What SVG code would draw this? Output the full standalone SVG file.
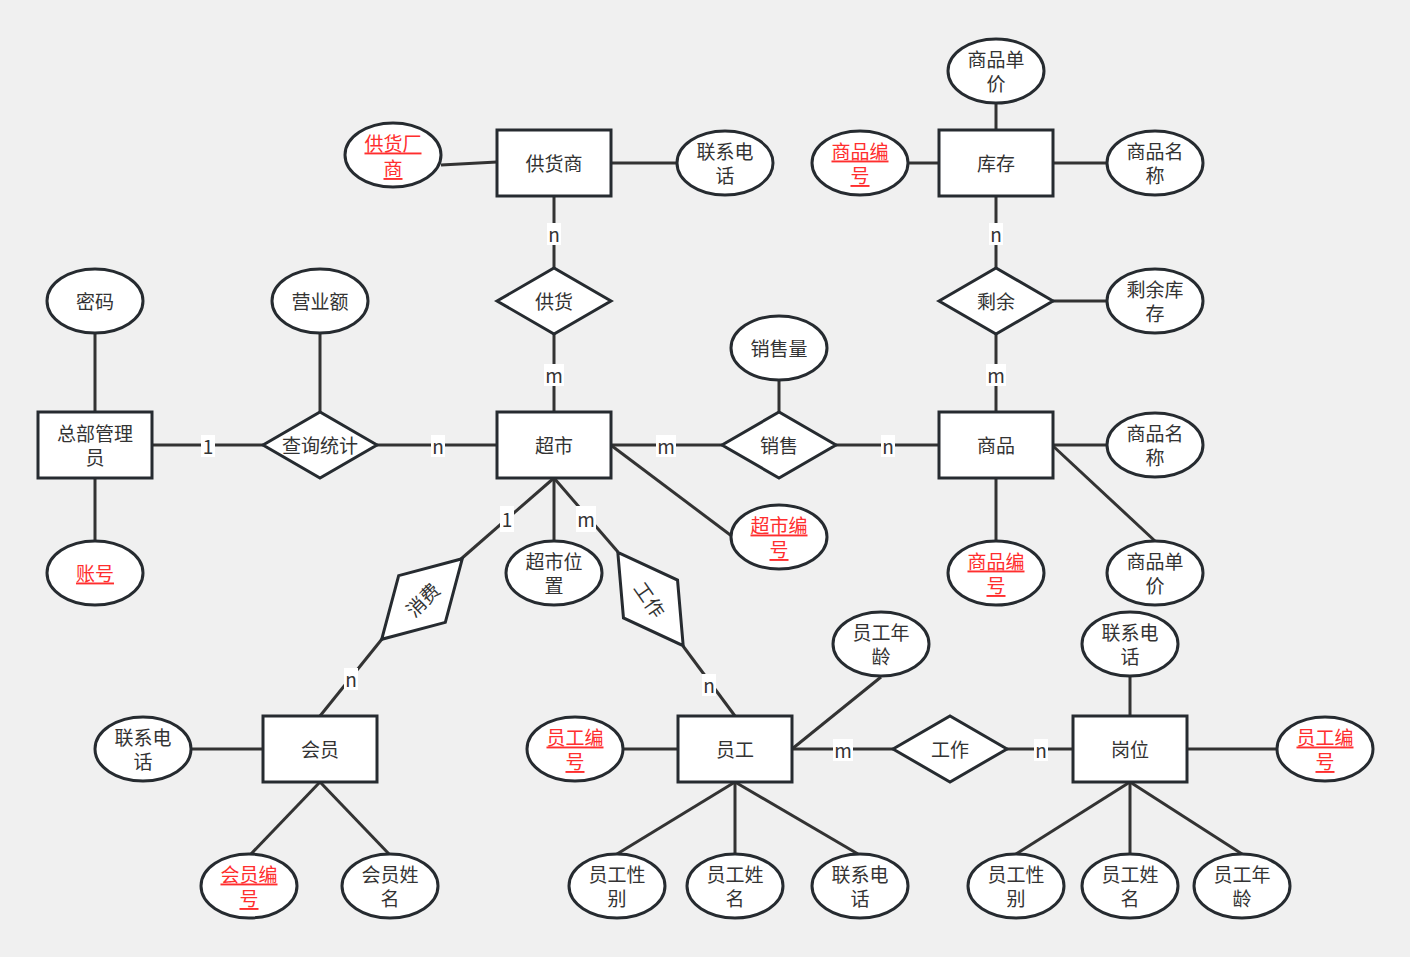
<svg xmlns="http://www.w3.org/2000/svg" width="1410" height="957" viewBox="0 0 1410 957">
<style>
.bg{fill:#f0f0f0}
.n{fill:#fff;stroke:#262b30;stroke-width:3}
.e{stroke:#333;stroke-width:3;fill:none}
text{font-family:"Noto Sans CJK SC","Noto Sans",sans-serif;font-size:19px;fill:#333;text-anchor:middle;dominant-baseline:central}
.k{fill:#ff2e2e;text-decoration:underline}
.lb{fill:#fff}
</style>
<rect class="bg" width="1410" height="957"/>
<g id="connectors">
<line class="e" x1="441" y1="165" x2="497" y2="162"/>
<line class="e" x1="611" y1="163" x2="677" y2="163"/>
<line class="e" x1="554" y1="196" x2="554" y2="268"/>
<line class="e" x1="554" y1="334" x2="554" y2="412"/>
<line class="e" x1="908" y1="163" x2="939" y2="163"/>
<line class="e" x1="996" y1="103" x2="996" y2="130"/>
<line class="e" x1="1053" y1="163" x2="1107" y2="163"/>
<line class="e" x1="996" y1="196" x2="996" y2="268"/>
<line class="e" x1="1053" y1="301" x2="1107" y2="301"/>
<line class="e" x1="996" y1="334" x2="996" y2="412"/>
<line class="e" x1="95" y1="333" x2="95" y2="412"/>
<line class="e" x1="95" y1="478" x2="95" y2="541"/>
<line class="e" x1="152" y1="445" x2="263" y2="445"/>
<line class="e" x1="320" y1="333" x2="320" y2="412"/>
<line class="e" x1="377" y1="445" x2="497" y2="445"/>
<line class="e" x1="611" y1="445" x2="722" y2="445"/>
<line class="e" x1="779" y1="380" x2="779" y2="412"/>
<line class="e" x1="836" y1="445" x2="939" y2="445"/>
<line class="e" x1="612" y1="446" x2="733" y2="537"/>
<line class="e" x1="1053" y1="445" x2="1107" y2="445"/>
<line class="e" x1="1053" y1="446" x2="1155" y2="541"/>
<line class="e" x1="996" y1="478" x2="996" y2="541"/>
<line class="e" x1="554" y1="478" x2="554" y2="541"/>
<line class="e" x1="554" y1="478" x2="461" y2="559"/>
<line class="e" x1="554" y1="478" x2="618" y2="552"/>
<line class="e" x1="382" y1="639" x2="320" y2="716"/>
<line class="e" x1="683" y1="646" x2="735" y2="716"/>
<line class="e" x1="191" y1="749" x2="263" y2="749"/>
<line class="e" x1="320" y1="782" x2="250" y2="855"/>
<line class="e" x1="320" y1="782" x2="389" y2="854"/>
<line class="e" x1="623" y1="749" x2="678" y2="749"/>
<line class="e" x1="792" y1="749" x2="893" y2="749"/>
<line class="e" x1="792" y1="749" x2="881" y2="677"/>
<line class="e" x1="1007" y1="749" x2="1073" y2="749"/>
<line class="e" x1="735" y1="782" x2="617" y2="854"/>
<line class="e" x1="735" y1="782" x2="735" y2="854"/>
<line class="e" x1="735" y1="782" x2="858" y2="854"/>
<line class="e" x1="1130" y1="676" x2="1130" y2="716"/>
<line class="e" x1="1187" y1="749" x2="1277" y2="749"/>
<line class="e" x1="1130" y1="782" x2="1016" y2="854"/>
<line class="e" x1="1130" y1="782" x2="1130" y2="854"/>
<line class="e" x1="1130" y1="782" x2="1242" y2="854"/>
<g id="labels">
<rect class="lb" x="547" y="223" width="14" height="22"/><text x="554" y="233">n</text>
<rect class="lb" x="544" y="364" width="20" height="22"/><text x="554" y="374">m</text>
<rect class="lb" x="989" y="223" width="14" height="22"/><text x="996" y="233">n</text>
<rect class="lb" x="986" y="364" width="20" height="22"/><text x="996" y="374">m</text>
<rect class="lb" x="201" y="435" width="14" height="22"/><text x="208" y="445">1</text>
<rect class="lb" x="431" y="435" width="14" height="22"/><text x="438" y="445">n</text>
<rect class="lb" x="656" y="435" width="20" height="22"/><text x="666" y="445">m</text>
<rect class="lb" x="881" y="435" width="14" height="22"/><text x="888" y="445">n</text>
<rect class="lb" x="500" y="506" width="14" height="26"/><text x="507" y="518">1</text>
<rect class="lb" x="576" y="506" width="20" height="26"/><text x="586" y="518">m</text>
<rect class="lb" x="344" y="668" width="14" height="22"/><text x="351" y="678">n</text>
<rect class="lb" x="702" y="674" width="14" height="22"/><text x="709" y="684">n</text>
<rect class="lb" x="833" y="739" width="20" height="22"/><text x="843" y="749">m</text>
<rect class="lb" x="1034" y="739" width="14" height="22"/><text x="1041" y="749">n</text>
</g>
</g>
<g id="e-gonghuoshang"><rect class="n" x="497" y="130" width="114" height="66"/><text x="554" y="162">供货商</text></g>
<g id="e-kucun"><rect class="n" x="939" y="130" width="114" height="66"/><text x="996" y="162">库存</text></g>
<g id="e-zongbu"><rect class="n" x="38" y="412" width="114" height="66"/><text x="95" y="432">总部管理<tspan x="95" dy="24">员</tspan></text></g>
<g id="e-chaoshi"><rect class="n" x="497" y="412" width="114" height="66"/><text x="554" y="444">超市</text></g>
<g id="e-shangpin"><rect class="n" x="939" y="412" width="114" height="66"/><text x="996" y="444">商品</text></g>
<g id="e-huiyuan"><rect class="n" x="263" y="716" width="114" height="66"/><text x="320" y="748">会员</text></g>
<g id="e-yuangong"><rect class="n" x="678" y="716" width="114" height="66"/><text x="735" y="748">员工</text></g>
<g id="e-gangwei"><rect class="n" x="1073" y="716" width="114" height="66"/><text x="1130" y="748">岗位</text></g>
<g id="r-gonghuo"><polygon class="n" points="497,301 554,268 611,301 554,334"/><text x="554" y="300">供货</text></g>
<g id="r-shengyu"><polygon class="n" points="939,301 996,268 1053,301 996,334"/><text x="996" y="300">剩余</text></g>
<g id="r-chaxun"><polygon class="n" points="263,445 320,412 377,445 320,478"/><text x="320" y="444">查询统计</text></g>
<g id="r-xiaoshou"><polygon class="n" points="722,445 779,412 836,445 779,478"/><text x="779" y="444">销售</text></g>
<g id="r-gongzuo2"><polygon class="n" points="893,749 950,716 1007,749 950,782"/><text x="950" y="748">工作</text></g>
<g id="r-xiaofei" transform="translate(422,599) rotate(-45)"><polygon class="n" points="-57,0 0,-33 57,0 0,33"/><text x="0" y="0">消费</text></g>
<g id="r-gongzuo1" transform="translate(650.5,599) rotate(55)"><polygon class="n" points="-57,0 0,-33 57,0 0,33"/><text x="0" y="0">工作</text></g>
<g id="a1"><ellipse class="n" cx="393" cy="155" rx="48" ry="32"/><text class="k" x="393" y="142">供货厂<tspan x="393" dy="25">商</tspan></text></g>
<g id="a2"><ellipse class="n" cx="725" cy="163" rx="48" ry="32"/><text x="725" y="150">联系电<tspan x="725" dy="24">话</tspan></text></g>
<g id="a3"><ellipse class="n" cx="996" cy="71" rx="48" ry="32"/><text x="996" y="58">商品单<tspan x="996" dy="24">价</tspan></text></g>
<g id="a4"><ellipse class="n" cx="860" cy="163" rx="48" ry="32"/><text class="k" x="860" y="150">商品编<tspan x="860" dy="24">号</tspan></text></g>
<g id="a5"><ellipse class="n" cx="1155" cy="163" rx="48" ry="32"/><text x="1155" y="150">商品名<tspan x="1155" dy="24">称</tspan></text></g>
<g id="a6"><ellipse class="n" cx="1155" cy="301" rx="48" ry="32"/><text x="1155" y="288">剩余库<tspan x="1155" dy="24">存</tspan></text></g>
<g id="a7"><ellipse class="n" cx="95" cy="301" rx="48" ry="32"/><text x="95" y="300">密码</text></g>
<g id="a8"><ellipse class="n" cx="320" cy="301" rx="48" ry="32"/><text x="320" y="300">营业额</text></g>
<g id="a9"><ellipse class="n" cx="779" cy="348" rx="48" ry="32"/><text x="779" y="347">销售量</text></g>
<g id="a10"><ellipse class="n" cx="1155" cy="445" rx="48" ry="32"/><text x="1155" y="432">商品名<tspan x="1155" dy="24">称</tspan></text></g>
<g id="a11"><ellipse class="n" cx="779" cy="537" rx="48" ry="32"/><text class="k" x="779" y="524">超市编<tspan x="779" dy="24">号</tspan></text></g>
<g id="a12"><ellipse class="n" cx="95" cy="573" rx="48" ry="32"/><text class="k" x="95" y="572">账号</text></g>
<g id="a13"><ellipse class="n" cx="554" cy="573" rx="48" ry="32"/><text x="554" y="560">超市位<tspan x="554" dy="24">置</tspan></text></g>
<g id="a14"><ellipse class="n" cx="996" cy="573" rx="48" ry="32"/><text class="k" x="996" y="560">商品编<tspan x="996" dy="24">号</tspan></text></g>
<g id="a15"><ellipse class="n" cx="1155" cy="573" rx="48" ry="32"/><text x="1155" y="560">商品单<tspan x="1155" dy="24">价</tspan></text></g>
<g id="a16"><ellipse class="n" cx="881" cy="644" rx="48" ry="32"/><text x="881" y="631">员工年<tspan x="881" dy="24">龄</tspan></text></g>
<g id="a17"><ellipse class="n" cx="1130" cy="644" rx="48" ry="32"/><text x="1130" y="631">联系电<tspan x="1130" dy="24">话</tspan></text></g>
<g id="a18"><ellipse class="n" cx="143" cy="749" rx="48" ry="32"/><text x="143" y="736">联系电<tspan x="143" dy="24">话</tspan></text></g>
<g id="a19"><ellipse class="n" cx="575" cy="749" rx="48" ry="32"/><text class="k" x="575" y="736">员工编<tspan x="575" dy="24">号</tspan></text></g>
<g id="a20"><ellipse class="n" cx="1325" cy="749" rx="48" ry="32"/><text class="k" x="1325" y="736">员工编<tspan x="1325" dy="24">号</tspan></text></g>
<g id="a21"><ellipse class="n" cx="249" cy="886" rx="48" ry="32"/><text class="k" x="249" y="873">会员编<tspan x="249" dy="24">号</tspan></text></g>
<g id="a22"><ellipse class="n" cx="390" cy="886" rx="48" ry="32"/><text x="390" y="873">会员姓<tspan x="390" dy="24">名</tspan></text></g>
<g id="a23"><ellipse class="n" cx="617" cy="886" rx="48" ry="32"/><text x="617" y="873">员工性<tspan x="617" dy="24">别</tspan></text></g>
<g id="a24"><ellipse class="n" cx="735" cy="886" rx="48" ry="32"/><text x="735" y="873">员工姓<tspan x="735" dy="24">名</tspan></text></g>
<g id="a25"><ellipse class="n" cx="860" cy="886" rx="48" ry="32"/><text x="860" y="873">联系电<tspan x="860" dy="24">话</tspan></text></g>
<g id="a26"><ellipse class="n" cx="1016" cy="886" rx="48" ry="32"/><text x="1016" y="873">员工性<tspan x="1016" dy="24">别</tspan></text></g>
<g id="a27"><ellipse class="n" cx="1130" cy="886" rx="48" ry="32"/><text x="1130" y="873">员工姓<tspan x="1130" dy="24">名</tspan></text></g>
<g id="a28"><ellipse class="n" cx="1242" cy="886" rx="48" ry="32"/><text x="1242" y="873">员工年<tspan x="1242" dy="24">龄</tspan></text></g>
</svg>
